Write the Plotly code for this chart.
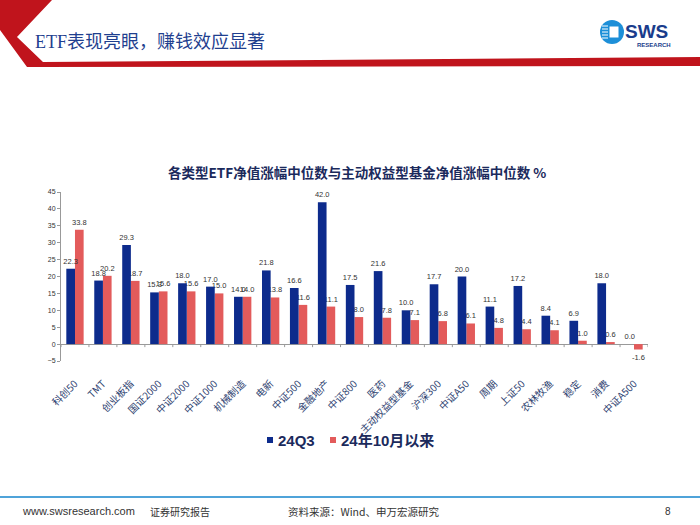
import plotly.graph_objects as go

categories = ["科创50", "TMT", "创业板指", "国证2000", "中证2000", "中证1000", "机械制造", "电新",
              "中证500", "金融地产", "中证800", "医药", "主动权益型基金", "沪深300", "中证A50",
              "周期", "上证50", "农林牧渔", "稳定", "消费", "中证A500"]
q3_values = [22.3, 18.8, 29.3, 15.3, 18.0, 17.0, 14.0, 21.8, 16.6, 42.0, 17.5, 21.6, 10.0, 17.7,
             20.0, 11.1, 17.2, 8.4, 6.9, 18.0, 0.0]
oct_values = [33.8, 20.2, 18.7, 15.6, 15.6, 15.0, 14.0, 13.8, 11.6, 11.1, 8.0, 7.8, 7.1, 6.8,
              6.1, 4.8, 4.4, 4.1, 1.0, 0.6, -1.6]
series_names = ["24Q3", "24年10月以来"]
y_ticks = [-5, 0, 5, 10, 15, 20, 25, 30, 35, 40, 45]

NAVY = "#0d2b8c"
RED = "#e35b5b"
FONT = "Liberation Sans, Arial, Noto Sans CJK SC"
CJK = "Noto Sans CJK SC"

W, H = 700, 525
L, R, T, B = 61, 648, 192, 361
BAR_W = 0.31


def px(x):
    return (x - L) / (R - L)


def py(y):
    return (B - y) / (B - T)


fig = go.Figure()
# red series drawn first so the navy bars and their labels sit on top (as in the reference)
for name, vals, col, off in [(series_names[1], oct_values, RED, 0.0),
                             (series_names[0], q3_values, NAVY, -BAR_W)]:
    fig.add_trace(go.Bar(
        x=categories, y=vals, name=name, marker_color=col, marker_line_width=0,
        offset=off, width=BAR_W,
        text=[f"{v:.1f}" for v in vals], textposition="outside", textangle=0,
        constraintext="none", cliponaxis=False,
        textfont=dict(size=7.5, color="#333333", family=FONT),
        showlegend=False,
    ))

shapes = []
# category boundary ticks on the zero line
for i in range(len(categories) + 1):
    shapes.append(dict(type="line", xref="x", yref="y", x0=i - 0.5, x1=i - 0.5,
                       y0=0, y1=-0.9, line=dict(color="#999999", width=1)))


def path(points):
    return "M " + " L ".join(f"{px(x):.5f},{py(y):.5f}" for x, y in points) + " Z"


# header red chevron + band
shapes.append(dict(type="path", xref="paper", yref="paper",
                   path=path([(0, 0), (52, 0), (17, 37), (43, 62), (700, 57), (700, 66), (27, 67), (0, 30)]),
                   fillcolor="#c0141c", line=dict(width=0), layer="above"))
# logo
shapes.append(dict(type="circle", xref="paper", yref="paper",
                   x0=px(600), x1=px(624), y0=py(20), y1=py(44),
                   fillcolor="#1d8fd8", line=dict(width=0)))
shapes.append(dict(type="rect", xref="paper", yref="paper",
                   x0=px(609), x1=px(619), y0=py(26), y1=py(38),
                   fillcolor="white", line=dict(color="#1d8fd8", width=1)))
for yy in [26, 29, 32, 35, 38]:
    shapes.append(dict(type="line", xref="paper", yref="paper",
                       x0=px(602), x1=px(608), y0=py(yy), y1=py(yy),
                       line=dict(color="white", width=1)))
# footer line
shapes.append(dict(type="line", xref="paper", yref="paper",
                   x0=px(0), x1=px(700), y0=py(497), y1=py(497),
                   line=dict(color="#4fa3d9", width=2)))
# legend swatches
for sx, col in [(267, NAVY), (330, RED)]:
    shapes.append(dict(type="rect", xref="paper", yref="paper",
                       x0=px(sx), x1=px(sx + 6), y0=py(437), y1=py(443),
                       fillcolor=col, line=dict(width=0)))

annotations = [
    dict(text="ETF表现亮眼，赚钱效应显著", x=px(33), y=py(42), xanchor="left", yanchor="middle",
         font=dict(size=18, color="#1f3f8f", family="Liberation Serif, Noto Sans CJK SC")),
    dict(text="<b>SWS</b>", x=px(623), y=py(31), xanchor="left", yanchor="middle",
         font=dict(size=19, color="#1a3c8c", family=FONT)),
    dict(text="<b>RESEARCH</b>", x=px(635), y=py(45), xanchor="left", yanchor="middle",
         font=dict(size=6, color="#1a3c8c", family=FONT)),
    dict(text="<b>各类型ETF净值涨幅中位数与主动权益型基金净值涨幅中位数 %</b>", x=px(357), y=py(172),
         xanchor="center", yanchor="middle", font=dict(size=13.5, color="#1b2a5c", family=CJK)),
    dict(text=f"<b>{series_names[0]}</b>", x=px(276), y=py(440), xanchor="left", yanchor="middle",
         font=dict(size=15, color="#1b2a5c", family=FONT)),
    dict(text=f"<b>{series_names[1]}</b>", x=px(339), y=py(440), xanchor="left", yanchor="middle",
         font=dict(size=15, color="#1b2a5c", family=FONT)),
    dict(text="www.swsresearch.com", x=px(20), y=py(511), xanchor="left", yanchor="middle",
         font=dict(size=11, color="#333333", family=FONT)),
    dict(text="证券研究报告", x=px(148), y=py(511), xanchor="left", yanchor="middle",
         font=dict(size=10, color="#333333", family=CJK)),
    dict(text="资料来源：Wind、申万宏源研究", x=px(286), y=py(511), xanchor="left", yanchor="middle",
         font=dict(size=10.5, color="#333333", family=CJK)),
    dict(text="8", x=px(668), y=py(511), xanchor="center", yanchor="middle",
         font=dict(size=10, color="#333333", family=FONT)),
]
for a in annotations:
    a.update(xref="paper", yref="paper", showarrow=False)

fig.update_layout(
    width=W, height=H, autosize=False,
    margin=dict(l=L, r=W - R, t=T, b=H - B, pad=0),
    paper_bgcolor="white", plot_bgcolor="white",
    barmode="overlay", showlegend=False,
    font=dict(family=FONT, color="#333333"),
    xaxis=dict(range=[-0.5, len(categories) - 0.5], showgrid=False, showline=False, zeroline=False,
               ticks="", tickangle=-45, automargin=False, ticklabelstandoff=14,
               tickfont=dict(size=10, color="#2d4170", family=CJK)),
    yaxis=dict(range=[-5, 45], tickvals=y_ticks, showgrid=False, showline=True, linecolor="#999999",
               linewidth=1, ticks="outside", ticklen=3, tickcolor="#999999", automargin=False,
               zeroline=True, zerolinecolor="#999999", zerolinewidth=1,
               tickfont=dict(size=7, color="#333333", family=FONT)),
    shapes=shapes, annotations=annotations,
)

fig.write_html("out.html", config={"displayModeBar": False},
               post_script="document.body.style.margin='0';document.body.style.overflow='hidden';")
